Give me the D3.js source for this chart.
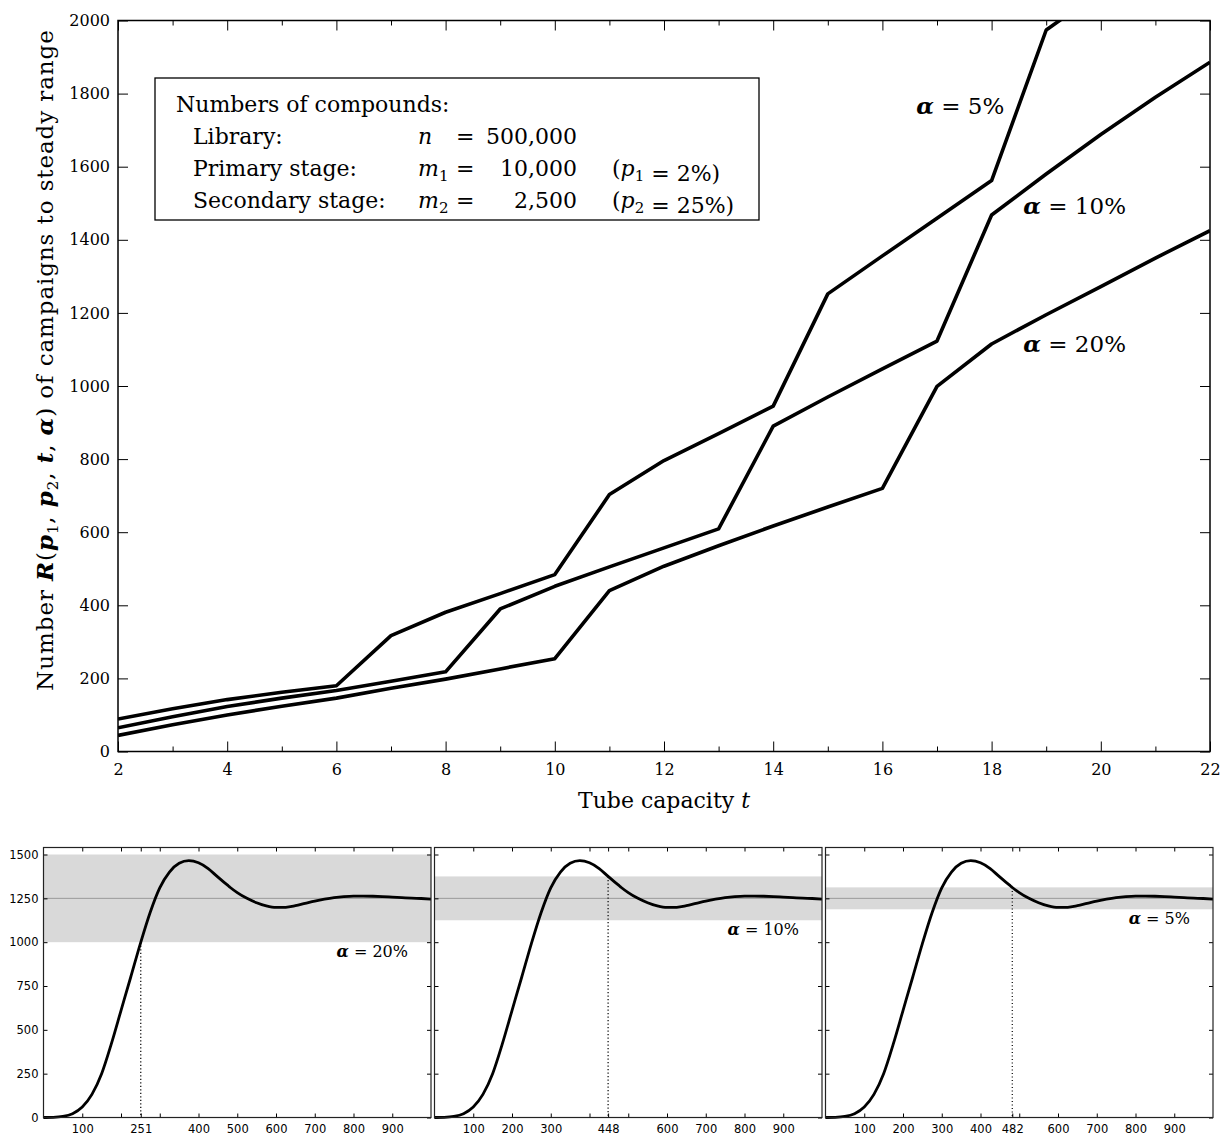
<!DOCTYPE html>
<html lang="en">
<head>
<meta charset="UTF-8">
<title>Campaigns to steady range</title>
<script src="https://d3js.org/d3.v7.min.js"></script>
<style>
    body { margin: 0; background: #fff; }
    svg text { font-family: "DejaVu Serif", serif; fill: #000; }
    .big .tick text { font-family: "DejaVu Serif", serif; font-size: 16px; }
    .small .tick text { font-family: "DejaVu Sans", sans-serif; font-size: 11.5px; }
    .tick line { stroke: #000; }
</style>
</head>
<body>
<svg id="canvas" width="1223" height="1137"></svg>
<script>
    // ---- data ----
    // top chart: tube capacity t and number of campaigns for each alpha
    let tValues = [2, 3, 4, 5, 6, 7, 8, 9, 10, 11, 12, 13, 14, 15, 16, 17, 18, 19, 20, 21, 22];
    let alpha05 = [89, 117, 142, 162, 180, 317, 381, 432, 484, 703, 796, 870, 945, 1252, 1356, 1459, 1562, 1974, 2080, null, null];
    let alpha10 = [65, 95, 123, 146, 167, 192, 218, 390, 452, 505, 557, 609, 890, 970, 1047, 1123, 1468, 1580, 1688, 1790, 1886];
    let alpha20 = [44, 73, 100, 124, 146, 173, 198, 226, 254, 440, 507, 563, 617, 669, 720, 999, 1115, 1195, 1272, 1350, 1425];
    let seriesLabels = ["5%", "10%", "20%"];
    let yTicksMain = [0, 200, 400, 600, 800, 1000, 1200, 1400, 1600, 1800, 2000];
    let tMajor = [2, 4, 6, 8, 10, 12, 14, 16, 18, 20, 22];
    let tMinor = [3, 5, 7, 9, 11, 13, 15, 17, 19, 21];

    // bottom panels: one campaign response curve
    let campX = [0, 25, 50, 75, 100, 125, 150, 175, 200, 225, 250, 275, 300, 325, 350, 375, 400, 425, 448, 475, 482, 500,
        525, 550, 575, 600, 625, 650, 675, 700, 725, 750, 775, 800, 825, 850, 875, 900, 925, 950, 975, 1000];
    let campY = [0, 1, 6, 22, 60, 132, 250, 420, 610, 800, 992, 1168, 1310, 1400, 1450, 1465, 1453, 1420, 1375, 1325, 1312, 1283,
        1250, 1225, 1207, 1198, 1199, 1208, 1221, 1234, 1245, 1254, 1260, 1263, 1263, 1262, 1260, 1257, 1254, 1251, 1249, 1246];
    let steadyValue = 1250;
    let panelAlpha = [0.20, 0.10, 0.05];
    let panelAlphaText = ["20%", "10%", "5%"];
    let panelCross = [251, 448, 482];
    let panelCrossLevel = [1000, 1375, 1312.5];
    let panelXLabels = [
        [100, 251, 400, 500, 600, 700, 800, 900],
        [100, 200, 300, 448, 600, 700, 800, 900],
        [100, 200, 300, 400, 482, 600, 700, 800, 900]
    ];
    let panelYTicks = [0, 250, 500, 750, 1000, 1250, 1500];

    let svg = d3.select('#canvas');

    // ================= top chart =================
    let m = {left: 118, right: 1210, top: 20.5, bottom: 751.5};
    let x = d3.scaleLinear().domain([2, 22]).range([m.left, m.right]);
    let y = d3.scaleLinear().domain([0, 2000]).range([m.bottom, m.top]);

    svg.append('clipPath').attr('id', 'clipMain')
        .append('rect')
        .attr('x', m.left).attr('y', m.top)
        .attr('width', m.right - m.left).attr('height', m.bottom - m.top);

    let big = svg.append('g').attr('class', 'big');

    // axes with inward ticks
    big.append('g').attr('transform', `translate(0,${m.bottom})`)
        .call(d3.axisBottom(x).tickValues(tMajor).tickSize(-10).tickPadding(12).tickFormat(d3.format('d')));
    big.append('g').attr('transform', `translate(0,${m.bottom})`)
        .call(d3.axisBottom(x).tickValues(tMinor).tickSize(-5).tickFormat(''));
    big.append('g').attr('transform', `translate(0,${m.top})`)
        .call(d3.axisTop(x).tickValues(tMajor).tickSize(-10).tickFormat(''));
    big.append('g').attr('transform', `translate(0,${m.top})`)
        .call(d3.axisTop(x).tickValues(tMinor).tickSize(-5).tickFormat(''));
    big.append('g').attr('transform', `translate(${m.left},0)`)
        .call(d3.axisLeft(y).tickValues(yTicksMain).tickSize(-10).tickPadding(8).tickFormat(d3.format('d')));
    big.append('g').attr('transform', `translate(${m.right},0)`)
        .call(d3.axisRight(y).tickValues(yTicksMain).tickSize(-10).tickFormat(''));
    big.selectAll('.domain').remove();

    big.append('rect')
        .attr('x', m.left).attr('y', m.top)
        .attr('width', m.right - m.left).attr('height', m.bottom - m.top)
        .attr('fill', 'none').attr('stroke', '#000').attr('stroke-width', 1.5);

    let line = d3.line()
        .defined(d => d[1] != null)
        .x(d => x(d[0]))
        .y(d => y(d[1]));

    let allSeries = [alpha05, alpha10, alpha20];
    big.append('g').attr('clip-path', 'url(#clipMain)')
        .selectAll('path')
        .data(allSeries)
        .enter()
        .append('path')
        .attr('d', s => line(tValues.map((t, i) => [t, s[i]])))
        .attr('fill', 'none')
        .attr('stroke', '#000')
        .attr('stroke-width', 3.6)
        .attr('stroke-linejoin', 'round');

    // curve labels, placed in data units
    let labelPos = [[16.62, 1743], [18.58, 1470], [18.58, 1094]];
    seriesLabels.forEach(function (lab, i) {
        let tx = big.append('text')
            .attr('x', x(labelPos[i][0]))
            .attr('y', y(labelPos[i][1]))
            .style('font-size', '23px');
        tx.append('tspan').style('font-weight', 'bold').style('font-style', 'italic').text('α');
        tx.append('tspan').text(' = ' + lab);
    });

    // axis titles
    let xt = big.append('text')
        .attr('x', (m.left + m.right) / 2)
        .attr('y', 808)
        .attr('text-anchor', 'middle')
        .style('font-size', '22px');
    xt.append('tspan').text('Tube capacity ');
    xt.append('tspan').style('font-style', 'italic').text('t');

    let yt = big.append('text')
        .attr('transform', 'translate(53,360) rotate(-90)')
        .attr('text-anchor', 'middle')
        .style('font-size', '23px')
        .style('letter-spacing', '0.9px');
    yt.append('tspan').text('Number ');
    yt.append('tspan').style('font-style', 'italic').style('font-weight', 'bold').text('R');
    yt.append('tspan').text('(');
    yt.append('tspan').style('font-style', 'italic').style('font-weight', 'bold').text('p');
    yt.append('tspan').attr('dy', 5).style('font-size', '15px').text('1');
    yt.append('tspan').attr('dy', -5).text(', ');
    yt.append('tspan').style('font-style', 'italic').style('font-weight', 'bold').text('p');
    yt.append('tspan').attr('dy', 5).style('font-size', '15px').text('2');
    yt.append('tspan').attr('dy', -5).text(', ');
    yt.append('tspan').style('font-style', 'italic').style('font-weight', 'bold').text('t');
    yt.append('tspan').text(', ');
    yt.append('tspan').style('font-weight', 'bold').style('font-style', 'italic').text('α');
    yt.append('tspan').text(') of campaigns to steady range');

    // parameter box
    let box = big.append('g');
    box.append('rect')
        .attr('x', 155).attr('y', 78).attr('width', 604).attr('height', 142)
        .attr('fill', '#fff').attr('stroke', '#000').attr('stroke-width', 1.3);

    function boxText(px, py, anchor) {
        return box.append('text').attr('x', px).attr('y', py)
            .attr('text-anchor', anchor || 'start').style('font-size', '22px');
    }
    function mathSym(t, sym, sub) {
        t.append('tspan').style('font-style', 'italic').text(sym);
        if (sub) {
            t.append('tspan').attr('dy', 5).style('font-size', '15px').text(sub);
            t.append('tspan').attr('dy', -5).text('');
        }
    }
    boxText(176, 112).text('Numbers of compounds:');
    boxText(193, 144).text('Library:');
    boxText(193, 176).text('Primary stage:');
    boxText(193, 208).text('Secondary stage:');

    let rowY = [144, 176, 208];
    let syms = [['n', null], ['m', '1'], ['m', '2']];
    let nums = ['500,000', '10,000', '2,500'];
    rowY.forEach(function (ry, i) {
        mathSym(boxText(418, ry), syms[i][0], syms[i][1]);
        boxText(456, ry).text('=');
        boxText(577, ry, 'end').text(nums[i]);
    });
    let p1 = boxText(612, 176);
    p1.append('tspan').text('(');
    mathSym(p1, 'p', '1');
    p1.append('tspan').text(' = 2%)');
    let p2 = boxText(612, 208);
    p2.append('tspan').text('(');
    mathSym(p2, 'p', '2');
    p2.append('tspan').text(' = 25%)');

    // ================= bottom panels =================
    let panelLeft = [43.5, 434.5, 825.5];
    let pw = 387.5, pTop = 847.5, pBottom = 1117.5;
    let campLine = campX.map((v, i) => [v, campY[i]]);

    panelAlpha.forEach(function (a, i) {
        let L = panelLeft[i], R = L + pw;
        let bx = d3.scaleLinear().domain([0, 1000]).range([L, R]);
        let by = d3.scaleLinear().domain([0, 1540]).range([pBottom, pTop]);
        let g = svg.append('g').attr('class', 'small');

        // steady range band
        g.append('rect')
            .attr('x', L).attr('width', pw)
            .attr('y', by(steadyValue * (1 + a)))
            .attr('height', by(steadyValue * (1 - a)) - by(steadyValue * (1 + a)))
            .attr('fill', '#d9d9d9');
        g.append('line')
            .attr('x1', L).attr('x2', R)
            .attr('y1', by(steadyValue)).attr('y2', by(steadyValue))
            .attr('stroke', '#9a9a9a').attr('stroke-width', 1);

        // ticks
        let xt = d3.range(100, 1000, 100).concat([panelCross[i]]).sort((p, q) => p - q);
        g.append('g').attr('transform', `translate(0,${pBottom})`)
            .call(d3.axisBottom(bx).tickValues(xt).tickSize(-4).tickPadding(7)
                .tickFormat(d => panelXLabels[i].indexOf(d) >= 0 ? d : ''));
        g.append('g').attr('transform', `translate(0,${pTop})`)
            .call(d3.axisTop(bx).tickValues(xt).tickSize(-4).tickFormat(''));
        g.append('g').attr('transform', `translate(${L},0)`)
            .call(d3.axisLeft(by).tickValues(panelYTicks).tickSize(-4).tickPadding(5)
                .tickFormat(d => i === 0 ? d : ''));
        g.append('g').attr('transform', `translate(${R},0)`)
            .call(d3.axisRight(by).tickValues(panelYTicks).tickSize(-4).tickFormat(''));
        g.selectAll('.domain').remove();

        // dotted marker where the curve stays in range
        g.append('line')
            .attr('x1', bx(panelCross[i])).attr('x2', bx(panelCross[i]))
            .attr('y1', by(panelCrossLevel[i])).attr('y2', by(0))
            .attr('stroke', '#000').attr('stroke-width', 1.2)
            .attr('stroke-dasharray', '1.2,2.3');

        g.append('path')
            .attr('d', d3.line().curve(d3.curveMonotoneX).x(d => bx(d[0])).y(d => by(d[1]))(campLine))
            .attr('fill', 'none').attr('stroke', '#000').attr('stroke-width', 2.8);

        g.append('rect')
            .attr('x', L).attr('y', pTop).attr('width', pw).attr('height', pBottom - pTop)
            .attr('fill', 'none').attr('stroke', '#222').attr('stroke-width', 1.2);

        let lab = g.append('text')
            .attr('x', R - 23)
            .attr('y', by(steadyValue * (1 - a)) + 15)
            .attr('text-anchor', 'end')
            .style('font-size', '16px');
        lab.append('tspan').style('font-weight', 'bold').style('font-style', 'italic').text('α');
        lab.append('tspan').text(' = ' + panelAlphaText[i]);
    });
</script>
</body>
</html>
